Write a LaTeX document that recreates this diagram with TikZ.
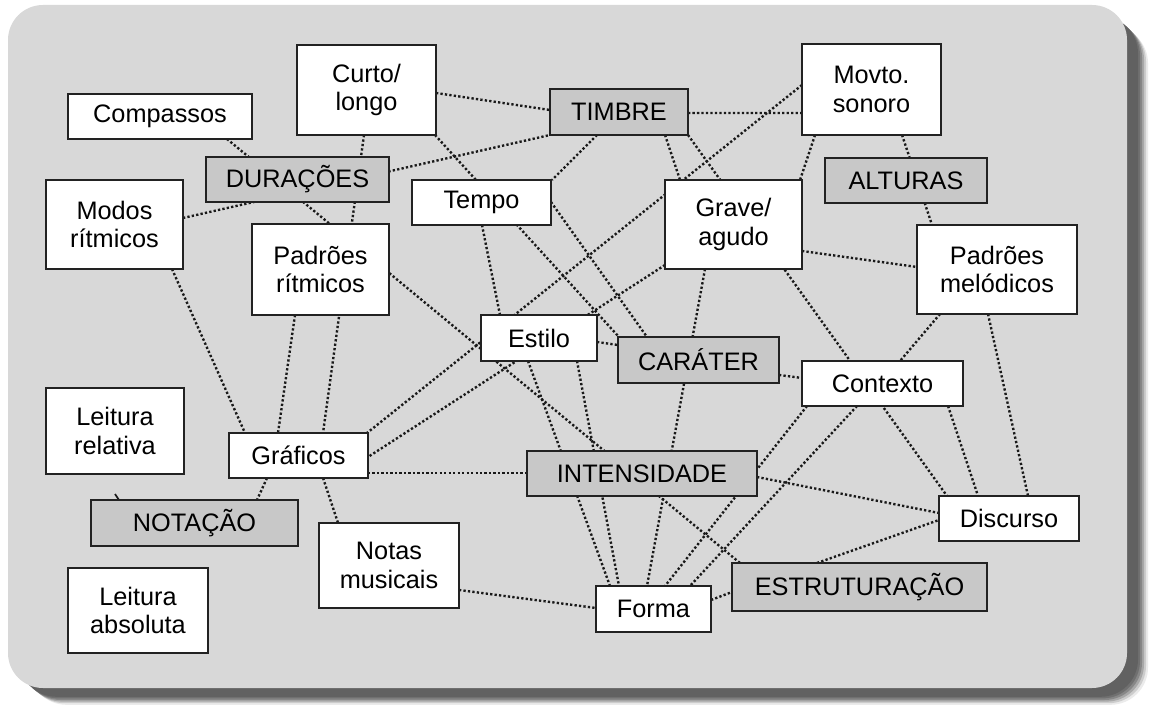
\documentclass[tikz,border=0pt]{standalone}
\usepackage{fontspec}
\setmainfont{Liberation Sans}
\usetikzlibrary{calc}
\pgfdeclarelayer{bg}
\pgfdeclarelayer{edges}
\pgfsetlayers{bg,edges,main}
\definecolor{panel}{RGB}{216,216,216}
\definecolor{boxgray}{RGB}{200,200,200}
\definecolor{boxline}{RGB}{34,34,34}
\definecolor{dotc}{RGB}{25,25,25}
\newcommand\bx[7]{%
  \pgfmathsetmacro\bxw{(#5-#3)*0.02}%
  \pgfmathsetmacro\bxh{(#6-#4)*0.02}%
  \node[#1,minimum width=\bxw cm,minimum height=\bxh cm] (#2) at ({(#3+#5)/2},{(#4+#6)/2}) {#7};}
\begin{document}
\begin{tikzpicture}[x=0.02cm,y=-0.02cm,
  wbox/.style={draw=boxline,line width=1.2pt,fill=white,inner sep=0pt,outer sep=0pt,align=center,text=black,font=\fontsize{14.4pt}{16.4pt}\selectfont},
  gbox/.style={wbox,fill=boxgray},
  link/.style={draw=dotc,line width=1.35pt,dash pattern=on 1.3pt off 1.25pt}]
\useasboundingbox (0,0) rectangle (1152,705);
\begin{pgfonlayer}{bg}
  \fill[white] (0,0) rectangle (1152,705);
  \foreach \o/\p in {21/8,19/20,17/34,15/47,13/56,11/62}{
    \fill[black!\p,rounded corners=0.75cm] ({8+\o},{5+\o}) rectangle ({1127+\o},{688+0.8*\o});
  }
  \fill[panel,rounded corners=0.7cm] (8,5) rectangle (1127,688);
\end{pgfonlayer}
% nodes
\bx{wbox}{cmp}{68}{94}{252}{139}{Compassos}
\bx{wbox}{cl}{297}{45}{436}{135}{Curto/\\longo}
\bx{gbox}{dur}{206}{157}{389}{202}{DURAÇÕES}
\bx{wbox}{mr}{46}{180}{183}{269}{Modos\\rítmicos}
\bx{wbox}{pr}{252}{224}{389}{315}{Padrões\\rítmicos}
\bx{gbox}{tim}{550}{89}{688}{135}{TIMBRE}
\bx{wbox}{tem}{412}{180}{551}{225}{Tempo}
\bx{wbox}{gra}{665}{180}{802}{269}{Grave/\\agudo}
\bx{wbox}{mov}{802}{44}{941}{135}{Movto.\\sonoro}
\bx{gbox}{alt}{825}{158}{987}{203}{ALTURAS}
\bx{wbox}{pm}{917}{225}{1077}{314}{Padrões\\melódicos}
\bx{wbox}{est}{481}{315}{597}{361}{Estilo}
\bx{gbox}{car}{618}{337}{779}{383}{CARÁTER}
\bx{wbox}{ctx}{802}{361}{963}{406}{Contexto}
\bx{gbox}{int}{527}{451}{757}{496}{INTENSIDADE}
\bx{wbox}{graf}{229}{433}{368}{478}{Gráficos}
\bx{wbox}{lr}{46}{388}{184}{474}{Leitura\\relativa}
\bx{gbox}{nota}{91}{500}{298}{546}{NOTAÇÃO}
\bx{wbox}{la}{68}{568}{208}{653}{Leitura\\absoluta}
\bx{wbox}{nm}{319}{523}{459}{608}{Notas\\musicais}
\bx{wbox}{for}{596}{586}{711}{632}{Forma}
\bx{gbox}{estr}{732}{563}{987}{611}{ESTRUTURAÇÃO}
\bx{wbox}{dis}{939}{496}{1079}{541}{Discurso}
% connectors
\begin{pgfonlayer}{edges}
  \draw[link] ($(cmp.north west)+(159,45)$) -- ($(estr.north west)+(8,0)$);
  \draw[link] ($(cl.north west)+(67,90)$) -- ($(graf.north west)+(94,0)$);
  \draw[link] ($(cl.north west)+(139,48)$) -- ($(tim.north west)+(0,21)$);
  \draw[link] ($(cl.north west)+(138,90)$) -- ($(car.north west)+(1,0)$);
  \draw[link] ($(mr.north west)+(137,38)$) -- ($(tim.north west)+(0,46)$);
  \draw[link] ($(tim.north west)+(47,46)$) -- ($(tem.north west)+(140,0)$);
  \draw[link] ($(tim.north west)+(115,46)$) -- ($(gra.north west)+(15,0)$);
  \draw[link] ($(tim.north west)+(138,46)$) -- ($(dis.north west)+(8,0)$);
  \draw[link] ($(tim.north west)+(138,24)$) -- ($(mov.north west)+(0,69)$);
  \draw[link] ($(mov.north west)+(0,41)$) -- ($(graf.north west)+(138,0)$);
  \draw[link] ($(mov.north west)+(13,91)$) -- ($(gra.north west)+(135,0)$);
  \draw[link] ($(mov.north west)+(100,91)$) -- ($(pm.north west)+(15,0)$);
  \draw[link] ($(gra.north west)+(0,85)$) -- ($(graf.north west)+(139,24)$);
  \draw[link] ($(gra.north west)+(40,89)$) -- ($(for.north west)+(51,0)$);
  \draw[link] ($(gra.north west)+(137,71)$) -- ($(pm.north west)+(0,42)$);
  \draw[link] ($(tem.north west)+(70,45)$) -- ($(est.north west)+(19,0)$);
  \draw[link] ($(tem.north west)+(139,22)$) -- ($(car.north west)+(29,0)$);
  \draw[link] ($(est.north west)+(116,27)$) -- ($(car.north west)+(0,8)$);
  \draw[link] ($(est.north west)+(47,46)$) -- ($(for.north west)+(14,0)$);
  \draw[link] ($(est.north west)+(96,46)$) -- ($(for.north west)+(23,0)$);
  \draw[link] ($(car.north west)+(161,38)$) -- ($(ctx.north west)+(0,17)$);
  \draw[link] ($(ctx.north west)+(5,45)$) -- ($(for.north west)+(69,0)$);
  \draw[link] ($(ctx.north west)+(55,45)$) -- ($(for.north west)+(94,0)$);
  \draw[link] ($(ctx.north west)+(146,45)$) -- ($(dis.north west)+(39,0)$);
  \draw[link] ($(pm.north west)+(23,89)$) -- ($(ctx.north west)+(98,0)$);
  \draw[link] ($(pm.north west)+(71,89)$) -- ($(dis.north west)+(89,0)$);
  \draw[link] ($(int.north west)+(230,26)$) -- ($(dis.north west)+(0,17)$);
  \draw[link] ($(estr.north west)+(85,0)$) -- ($(dis.north west)+(0,24)$);
  \draw[link] ($(for.north west)+(115,14)$) -- ($(estr.north west)+(0,29)$);
  \draw[link] ($(nm.north west)+(140,67)$) -- ($(for.north west)+(0,22)$);
  \draw[link] ($(graf.north west)+(139,40)$) -- ($(int.north west)+(0,22)$);
  \draw[link] ($(graf.north west)+(38,45)$) -- ($(nota.north west)+(166,0)$);
  \draw[link] ($(graf.north west)+(94,45)$) -- ($(nm.north west)+(19,0)$);
  \draw[link] ($(pr.north west)+(43,91)$) -- ($(graf.north west)+(49,0)$);
  \draw[link] ($(mr.north west)+(126,89)$) -- ($(graf.north west)+(16,0)$);
  \draw[draw=dotc,line width=1pt] ($(nota.north west)+(28,0)$) -- ++(-4,-6);
\end{pgfonlayer}
\end{tikzpicture}
\end{document}
